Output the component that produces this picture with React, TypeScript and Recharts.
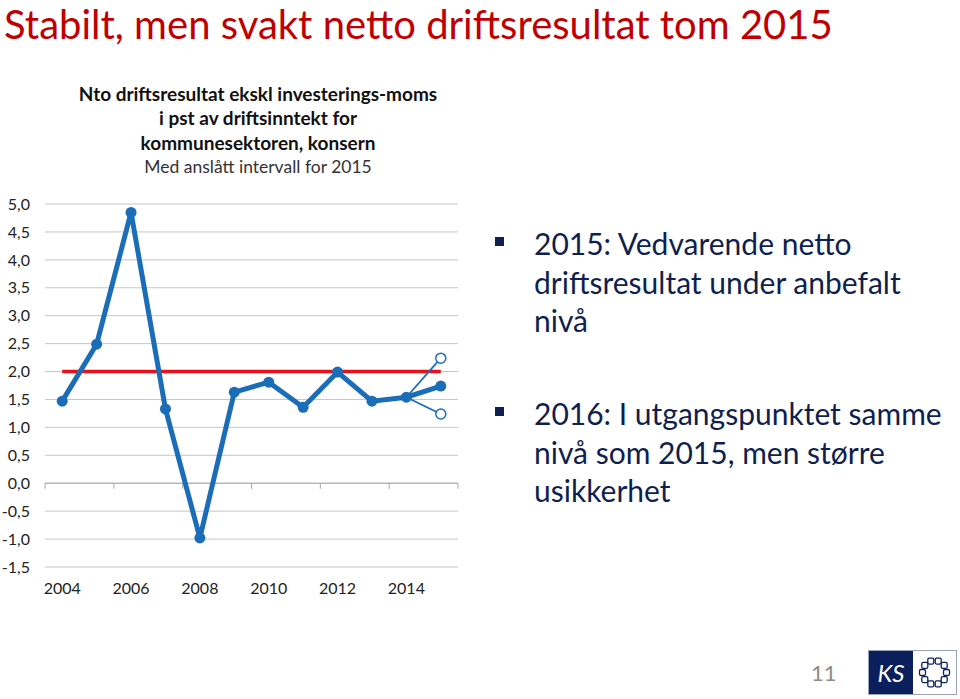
import React from "react";
import {
  ComposedChart,
  Line,
  CartesianGrid,
  XAxis,
  YAxis,
  ReferenceLine,
} from "recharts";

// years on the x axis
const years = [2004, 2005, 2006, 2007, 2008, 2009, 2010, 2011, 2012, 2013, 2014, 2015];
// netto driftsresultat, pst av driftsinntekt (2015 = midt i anslaget)
const netto = [1.47, 2.49, 4.85, 1.33, -0.98, 1.63, 1.81, 1.36, 1.99, 1.47, 1.54, 1.74];
// anslått intervall for 2015, startpunkt i 2014
const intervalYears = [2014, 2015];
const upper = [1.54, 2.24];
const lower = [1.54, 1.24];
// anbefalt nivå
const target = 2.0;

const xTickLabels = [2004, 2006, 2008, 2010, 2012, 2014];
const xTickMarks = [2003.5, 2005.5, 2007.5, 2009.5, 2011.5, 2013.5, 2015.5];
const yTicks = [-1.5, -1, -0.5, 0, 0.5, 1, 1.5, 2, 2.5, 3, 3.5, 4, 4.5, 5];

const data = years.map((y, i) => {
  const j = intervalYears.indexOf(y);
  return {
    year: y,
    netto: netto[i],
    target: target,
    upper: j >= 0 ? upper[j] : null,
    lower: j >= 0 ? lower[j] : null,
  };
});

const blue = "#1c6db8";
const font = "Lato, 'Open Sans', sans-serif";

const OpenDot = (props: any) => {
  const { cx, cy, payload } = props;
  if (payload.year !== 2015 || cx == null || cy == null) return <g />;
  return <circle cx={cx} cy={cy} r={5} fill="#fff" stroke={blue} strokeWidth={1.5} />;
};

const KsLogo = () => {
  const links = Array.from({ length: 10 }, (_, i) => (i * 36 * Math.PI) / 180);
  return (
    <div style={{ position: "absolute", left: 868, top: 650, width: 87, height: 43, border: "1px solid #9aa3b5", display: "flex" }}>
      <div style={{ width: 44, background: "#0b1f5c", color: "#fff", fontStyle: "italic", fontSize: 24, lineHeight: "43px", textAlign: "center", fontFamily: font }}>
        KS
      </div>
      <svg width={43} height={43}>
        {links.map((a, i) => (
          <rect
            key={i}
            x={21.5 + 12 * Math.cos(a) - 3}
            y={21.5 + 12 * Math.sin(a) - 3}
            width={6}
            height={6}
            rx={1.5}
            fill="none"
            stroke="#0b1f5c"
            strokeWidth={1.3}
          />
        ))}
      </svg>
    </div>
  );
};

const App = () => {
  const renderChart = (
    <ComposedChart
      width={470}
      height={407}
      data={data}
      margin={{ top: 14, right: 12, bottom: 0, left: 0 }}
    >
      <CartesianGrid vertical={false} stroke="#c6c6c6" strokeWidth={1} />
      <XAxis
        dataKey="year"
        type="number"
        domain={[2003.5, 2015.5]}
        ticks={xTickLabels}
        axisLine={false}
        tickLine={false}
        tickMargin={10}
        height={30}
        tick={{ fontSize: 16, fill: "#222", fontFamily: font }}
      />
      <YAxis
        domain={[-1.5, 5]}
        ticks={yTicks}
        width={45}
        axisLine={false}
        tickLine={false}
        tickMargin={9}
        interval={0}
        tickFormatter={(v: number) => v.toFixed(1).replace(".", ",")}
        tick={{ fontSize: 16, fill: "#222", fontFamily: font }}
      />
      <ReferenceLine y={0} stroke="#a8a8a8" strokeWidth={1} />
      {xTickMarks.map((x) => (
        <ReferenceLine
          key={x}
          segment={[{ x: x, y: 0 }, { x: x, y: -0.1 }]}
          stroke="#a8a8a8"
          strokeWidth={1}
        />
      ))}
      <Line dataKey="target" stroke="#e8101a" strokeWidth={3.5} dot={false} isAnimationActive={false} />
      <Line dataKey="upper" stroke={blue} strokeWidth={1.8} dot={<OpenDot />} isAnimationActive={false} />
      <Line dataKey="lower" stroke={blue} strokeWidth={1.8} dot={<OpenDot />} isAnimationActive={false} />
      <Line
        dataKey="netto"
        stroke={blue}
        strokeWidth={5}
        dot={{ r: 5.5, fill: blue, stroke: blue, strokeWidth: 0 }}
        isAnimationActive={false}
      />
    </ComposedChart>
  );

  const bullet = (lines: string[], top: number) => (
    <div style={{ position: "absolute", left: 0, top: top }}>
      <div style={{ position: "absolute", left: 495, top: 13, width: 9, height: 9, background: "#0f1f4f" }} />
      {lines.map((l, i) => (
        <div key={i} style={{ position: "absolute", left: 534, top: i * 38.5, whiteSpace: "nowrap", fontSize: 30, lineHeight: "38px", color: "#0f1f4f", fontFamily: font }}>
          {l}
        </div>
      ))}
    </div>
  );

  return (
    <div style={{ position: "absolute", left: 0, top: 0, width: 960, height: 699, background: "#fff", fontFamily: font, overflow: "hidden" }}>
      <div style={{ position: "absolute", left: 4, top: 0, fontSize: 40, lineHeight: "48px", color: "#c00000", whiteSpace: "nowrap" }}>
        Stabilt, men svakt netto driftsresultat tom 2015
      </div>
      <div style={{ position: "absolute", left: 38, top: 82, width: 440, textAlign: "center", fontSize: 19, lineHeight: "24.3px", color: "#111" }}>
        <div style={{ fontWeight: 700 }}>Nto driftsresultat ekskl investerings-moms</div>
        <div style={{ fontWeight: 700 }}>i pst av driftsinntekt for</div>
        <div style={{ fontWeight: 700 }}>kommunesektoren, konsern</div>
        <div style={{ fontSize: 17.5, color: "#333" }}>Med anslått intervall for 2015</div>
      </div>
      <div style={{ position: "absolute", left: 0, top: 190 }}>{renderChart}</div>
      {bullet(["2015: Vedvarende netto", "driftsresultat under anbefalt", "nivå"], 224)}
      {bullet(["2016: I utgangspunktet samme", "nivå som 2015, men større", "usikkerhet"], 394)}
      <div style={{ position: "absolute", left: 811, top: 659, fontSize: 22, color: "#8c8c8c" }}>11</div>
      <KsLogo />
    </div>
  );
};

export default App;
